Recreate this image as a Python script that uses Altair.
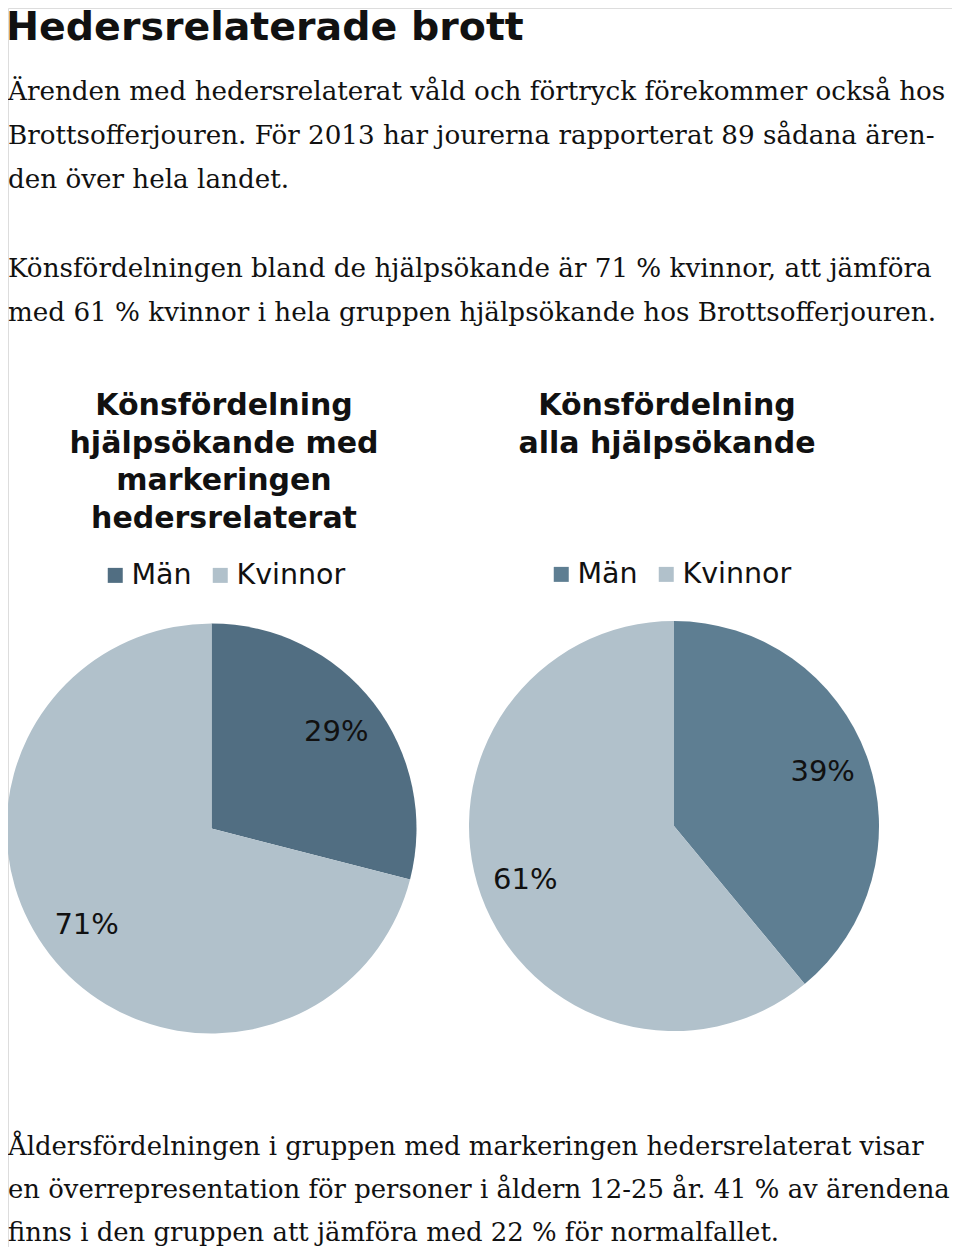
import altair as alt
import pandas as pd

# ---- text content ----
rubrik = "Hedersrelaterade brott"
stycke1 = [
    "Ärenden med hedersrelaterat våld och förtryck förekommer också hos",
    "Brottsofferjouren. För 2013 har jourerna rapporterat 89 sådana ären-",
    "den över hela landet.",
]
stycke2 = [
    "Könsfördelningen bland de hjälpsökande är 71 % kvinnor, att jämföra",
    "med 61 % kvinnor i hela gruppen hjälpsökande hos Brottsofferjouren.",
]
stycke3 = [
    "Åldersfördelningen i gruppen med markeringen hedersrelaterat visar",
    "en överrepresentation för personer i åldern 12-25 år. 41 % av ärendena",
    "finns i den gruppen att jämföra med 22 % för normalfallet.",
]
titel_vanster = ["Könsfördelning", "hjälpsökande med", "markeringen", "hedersrelaterat"]
titel_hoger = ["Könsfördelning", "alla hjälpsökande"]

# ---- pie data ----
kon = ["Män", "Kvinnor"]
andel_hedersrelaterat = [29, 71]
andel_alla = [39, 61]
farger_vanster = ["#516e82", "#b1c1cb"]
farger_hoger = ["#5e7e92", "#b1c1cb"]

W, H = 944, 1239
SANS = "DejaVu Sans"
SERIF = "DejaVu Serif"


def text_block(lines, x, y, font, size, line_height, align="left", weight="normal"):
    df = pd.DataFrame({"t": ["\n".join(lines)]})
    return alt.Chart(df).mark_text(
        align=align, baseline="alphabetic", font=font, fontSize=size,
        fontWeight=weight, lineBreak="\n", lineHeight=line_height, color="#111111",
    ).encode(text="t:N", x=alt.value(x), y=alt.value(y))


def pie(values, colors, cx, cy, lx, ly):
    df = pd.DataFrame({
        "kön": kon,
        "andel": values,
        "ordning": list(range(len(kon))),
        "etikett": [f"{v}%" for v in values],
    })
    base = alt.Chart(df).encode(
        theta=alt.Theta("andel:Q", stack=True),
        order=alt.Order("ordning:Q"),
        x=alt.value(cx), y=alt.value(cy),
    )
    arc = base.mark_arc(outerRadius=205).encode(
        color=alt.Color(
            "kön:N",
            scale=alt.Scale(domain=kon, range=colors),
            legend=alt.Legend(
                title=None, orient="none", legendX=lx, legendY=ly,
                direction="horizontal", symbolType="square", symbolSize=225,
                symbolStrokeWidth=0, labelFont=SANS, labelFontSize=28.5,
                labelColor="#111111", labelOffset=2, columnPadding=14,
                padding=0,
            ),
        )
    )
    lab = base.mark_text(radius=158, font=SANS, fontSize=29, color="#111111").encode(
        text="etikett:N"
    )
    return arc, lab


arc_v, lab_v = pie(andel_hedersrelaterat, farger_vanster, 203.5, 820.5, 93, 553)
arc_h, lab_h = pie(andel_alla, farger_hoger, 666, 818, 539, 552)

chart = alt.layer(
    text_block([rubrik], -2, 31.5, SANS, 39.5, 44, weight="bold"),
    text_block(stycke1, 0, 92, SERIF, 26.2, 44),
    text_block(stycke2, 0, 269, SERIF, 26.2, 44),
    text_block(stycke3, 0, 1147, SERIF, 25.9, 43),
    text_block(titel_vanster, 216, 407, SANS, 30, 37.5, align="center", weight="bold"),
    text_block(titel_hoger, 659, 407, SANS, 30, 37.5, align="center", weight="bold"),
    arc_v, lab_v, arc_h, lab_h,
).resolve_scale(color="independent").properties(
    width=W, height=H, autosize=alt.AutoSizeParams(type="none"), padding=0,
).configure_view(stroke="transparent", strokeWidth=0).configure(background="white")

chart.save("out.html", embed_options={"renderer": "svg", "actions": False})
